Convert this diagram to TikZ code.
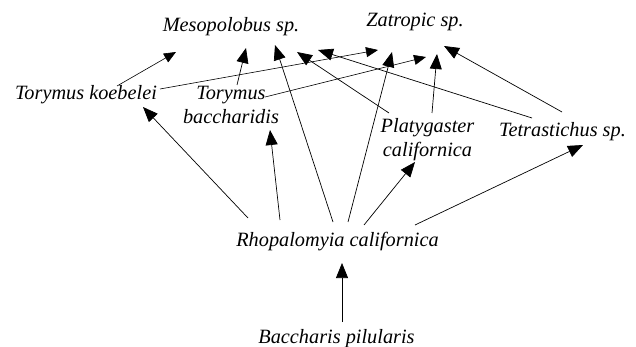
\documentclass[tikz,border=0pt]{standalone}
\usepackage{fontspec}
\setmainfont{Liberation Serif}
\usepackage{tikz}
\usetikzlibrary{arrows.meta, positioning, calc}

\begin{document}
\begin{tikzpicture}[
    x=1pt, y=-1pt,
    taxon/.style={font=\itshape\fontsize{20.3}{24}\selectfont, anchor=base, inner sep=1pt, align=center},
    bigfeed/.style={-{Triangle[length=15pt, width=12pt]}, line width=0.7pt},
    smallfeed/.style={-{Triangle[length=12pt, width=10pt]}, line width=0.6pt}
]
    \useasboundingbox (0,0) rectangle (636,347);

    % Species
    \node[taxon] (meso) at (231,32) {Mesopolobus sp.};
    \node[taxon] (zat) at (415,27) {Zatropic sp.};
    \node[taxon] (tk) at (86,100) {Torymus koebelei};
    \node[taxon] (tb) at (231,124) {Torymus\\baccharidis};
    \node[taxon] (pc) at (427.5,157) {Platygaster\\californica};
    \node[taxon] (tet) at (562.5,137) {Tetrastichus sp.};
    \node[taxon] (rh) at (337.5,246) {Rhopalomyia californica};
    \node[taxon] (bp) at (336.5,343) {Baccharis pilularis};

    % Host plant to gall midge
    \draw[bigfeed] ($(bp.base)+(5.5,-21)$) -- ($(rh.base)+(4.5,17)$);

    % Gall midge to parasitoids
    \draw[bigfeed] ($(rh.base)+(-89.5,-28)$) -- ($(tk.base)+(57,7)$);
    \draw[bigfeed] ($(rh.base)+(-57.5,-26)$) -- ($(tb.base)+(39,6)$);
    \draw[bigfeed] ($(rh.base)+(-4.5,-24)$) -- ($(meso.base)+(44,13)$);
    \draw[bigfeed] ($(rh.base)+(10.5,-24)$) -- ($(zat.base)+(-23,25)$);
    \draw[bigfeed] ($(rh.base)+(26.5,-21)$) -- ($(pc.base)+(-12.5,5)$);
    \draw[bigfeed] ($(rh.base)+(77.5,-21)$) -- ($(tet.base)+(20.5,8)$);

    % Parasitoids to hyperparasitoids
    \draw[smallfeed] ($(tk.base)+(31,-14)$) -- ($(meso.base)+(-55,20)$);
    \draw[smallfeed] ($(tk.base)+(74,-11)$) -- ($(zat.base)+(-37,23)$);
    \draw[bigfeed] ($(tb.base)+(6,-39)$) -- ($(meso.base)+(15,16)$);
    \draw[smallfeed] ($(tb.base)+(34,-27)$) -- ($(zat.base)+(11,30)$);
    \draw[bigfeed] ($(pc.base)+(-38.5,-44)$) -- ($(meso.base)+(66,20)$);
    \draw[bigfeed] ($(pc.base)+(4.5,-44)$) -- ($(zat.base)+(22,27)$);
    \draw[bigfeed] ($(tet.base)+(-30.5,-19)$) -- ($(meso.base)+(87,18)$);
    \draw[bigfeed] ($(tet.base)+(-0.5,-25)$) -- ($(zat.base)+(29,19)$);
\end{tikzpicture}
\end{document}
